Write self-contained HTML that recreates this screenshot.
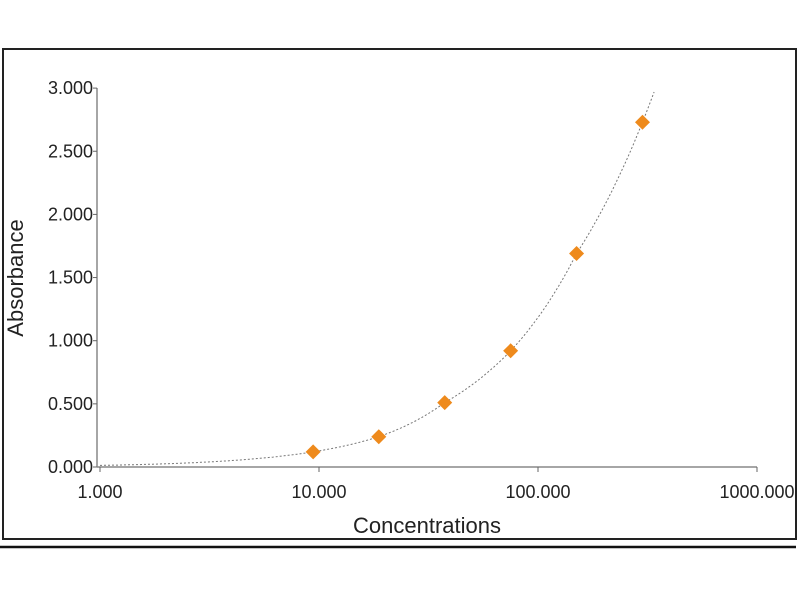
<!DOCTYPE html>
<html><head><meta charset="utf-8"><style>
body{margin:0;background:#fff;width:800px;height:600px;overflow:hidden}
svg{display:block;font-family:"Liberation Sans",Arial,sans-serif}
</style></head><body>
<svg id="s" width="800" height="600" viewBox="0 0 800 600">
<line x1="0" y1="547" x2="797" y2="547" stroke="#111" stroke-width="2.5"/>
<g stroke="#888" stroke-width="1.5">
<line x1="97" y1="88" x2="97" y2="467"/>
<line x1="97" y1="467" x2="757" y2="467"/>
</g>
<g id="ticks" stroke="#666" stroke-width="1"></g>
<g font-size="18" fill="#222" text-anchor="end" id="yl"></g>
<g font-size="18" fill="#222" text-anchor="middle" id="xl"></g>
<text x="427" y="533" font-size="22" text-anchor="middle" fill="#222">Concentrations</text>
<text transform="translate(23,278) rotate(-90)" font-size="22" text-anchor="middle" fill="#222">Absorbance</text>
<path id="curve" fill="none" stroke="#777" stroke-width="1" stroke-dasharray="2,2"/>
<g id="pts" fill="#ee8a1c"></g>
<rect x="796" y="40" width="10" height="510" fill="#fff"/>
<rect x="3" y="49" width="793" height="490" fill="none" stroke="#222" stroke-width="2"/>
</svg>
<script>
var X=function(v){return 100+219*Math.log10(v)},Y=function(v){return 467-126.3*v};
var t=document.getElementById('ticks'),yl=document.getElementById('yl'),xl=document.getElementById('xl'),ns='http://www.w3.org/2000/svg';
function el(n,a,p,txt){var e=document.createElementNS(ns,n);for(var k in a)e.setAttribute(k,a[k]);if(txt)e.textContent=txt;p.appendChild(e);return e}
for(var i=0;i<=6;i++){var y=Y(i*0.5);el('line',{x1:93,y1:y,x2:97,y2:y},t);el('text',{x:93,y:y+6},yl,(i*0.5).toFixed(3));}
['1.000','10.000','100.000','1000.000'].forEach(function(s,i){var x=100+219*i;el('line',{x1:x,y1:467,x2:x,y2:472},t);el('text',{x:x,y:498},xl,s);});
var px=[9.4,18.75,37.5,75,150,300],py=[0.12,0.24,0.51,0.92,1.69,2.73];
function f(x){var lx=Math.log(x);if(x<=px[0])return py[0]*x/px[0];
for(var i=0;i<5;i++){if(x<=px[i+1]){var a=Math.log(px[i]),b=Math.log(px[i+1]);var u=(lx-a)/(b-a);return Math.exp(Math.log(py[i])+u*(Math.log(py[i+1])-Math.log(py[i])));}}
return py[5]*Math.pow(x/300,0.69);}
var d='';for(var lx=0;lx<=Math.log10(340);lx+=0.01){var x=Math.pow(10,lx);d+=(d?'L':'M')+X(x).toFixed(1)+','+Y(f(x)).toFixed(1);}
document.getElementById('curve').setAttribute('d',d);
var g=document.getElementById('pts');
px.forEach(function(x,i){var cx=X(x),cy=Y(py[i]);el('path',{d:'M'+cx+','+(cy-7.5)+'L'+(cx+7.5)+','+cy+'L'+cx+','+(cy+7.5)+'L'+(cx-7.5)+','+cy+'Z'},g);});
</script>
</body></html>
